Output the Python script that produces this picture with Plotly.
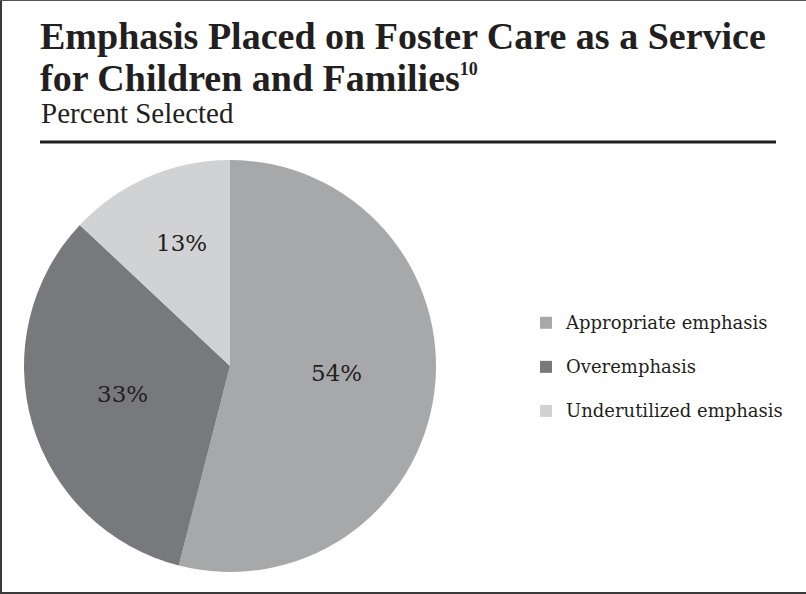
import math
import plotly.graph_objects as go

# Survey responses
categories = ["Appropriate emphasis", "Overemphasis", "Underutilized emphasis"]
percent_selected = [54, 33, 13]
slice_colors = ["#a7a8aa", "#78797c", "#d1d2d4"]

title_line1 = "Emphasis Placed on Foster Care as a Service"
title_line2 = "for Children and Families"
title_note = "10"
subtitle = "Percent Selected"

W, H = 806, 594
TEXT = "#231f20"


def px_x(x):
    return x / W


def px_y(y):
    return 1 - y / H


# Pie placement (pixels)
cx, cy, r = 230, 366, 206

# Legend rows: larger glyphs than the row-height font, plus a blank second line
# so each entry gets a taller row
legend_labels = [f"<span style='font-size:18px'>{c}</span><br> " for c in categories]

fig = go.Figure(
    go.Pie(
        labels=legend_labels,
        values=percent_selected,
        marker=dict(colors=slice_colors, line=dict(width=0)),
        sort=False,
        direction="clockwise",
        rotation=0,
        textinfo="none",
        hoverinfo="percent",
        domain=dict(x=[px_x(cx - r), px_x(cx + r)], y=[px_y(cy + r), px_y(cy - r)]),
    )
)

# Slice value labels: polar placement relative to each slice's mid-angle
label_radius = [0.52, 0.537, 0.64]
label_turn = [3.5, -1.5, -2.0]
total = sum(percent_selected)
start = 90.0
annotations = []
for val, frac, turn in zip(percent_selected, label_radius, label_turn):
    sweep = 360.0 * val / total
    mid = math.radians(start - sweep / 2 + turn)
    start -= sweep
    lx = cx + frac * r * math.cos(mid)
    ly = cy - frac * r * math.sin(mid)
    annotations.append(dict(
        x=px_x(lx), y=px_y(ly), xref="paper", yref="paper",
        text=f"{val}%", showarrow=False,
        font=dict(family="DejaVu Serif", size=23, color=TEXT),
        xanchor="center", yanchor="middle",
    ))

# Heading block
annotations += [
    dict(x=px_x(38), y=px_y(13), xref="paper", yref="paper", text=f"<b>{title_line1}</b>",
         showarrow=False, xanchor="left", yanchor="top",
         font=dict(family="Liberation Serif", size=38, color=TEXT)),
    dict(x=px_x(38), y=px_y(55), xref="paper", yref="paper",
         text=f"<b>{title_line2}<sup><span style='font-size:18px'>{title_note}</span></sup></b>",
         showarrow=False, xanchor="left", yanchor="top",
         font=dict(family="Liberation Serif", size=38, color=TEXT)),
    dict(x=px_x(39), y=px_y(95), xref="paper", yref="paper", text=subtitle,
         showarrow=False, xanchor="left", yanchor="top",
         font=dict(family="Liberation Serif", size=29, color=TEXT)),
]

shapes = [
    # rule under the heading
    dict(type="line", xref="paper", yref="paper", x0=px_x(40), x1=px_x(776),
         y0=px_y(142), y1=px_y(142), line=dict(color=TEXT, width=3)),
    # outer frame
    dict(type="line", xref="paper", yref="paper", x0=px_x(1), x1=px_x(1),
         y0=0, y1=1, line=dict(color="#3a3a3a", width=2)),
    dict(type="line", xref="paper", yref="paper", x0=0, x1=1,
         y0=px_y(0.5), y1=px_y(0.5), line=dict(color="#555555", width=1)),
    dict(type="line", xref="paper", yref="paper", x0=0, x1=1,
         y0=px_y(593), y1=px_y(593), line=dict(color="#3a3a3a", width=2)),
]

fig.update_layout(
    width=W, height=H,
    margin=dict(l=0, r=0, t=0, b=0),
    paper_bgcolor="white", plot_bgcolor="white",
    showlegend=True,
    legend=dict(
        x=px_x(526), y=px_y(306), xanchor="left", yanchor="top",
        valign="top",
        font=dict(family="DejaVu Serif", size=15.8, color=TEXT),
        bgcolor="rgba(0,0,0,0)",
    ),
    annotations=annotations,
    shapes=shapes,
)

fig.write_html("out.html")
